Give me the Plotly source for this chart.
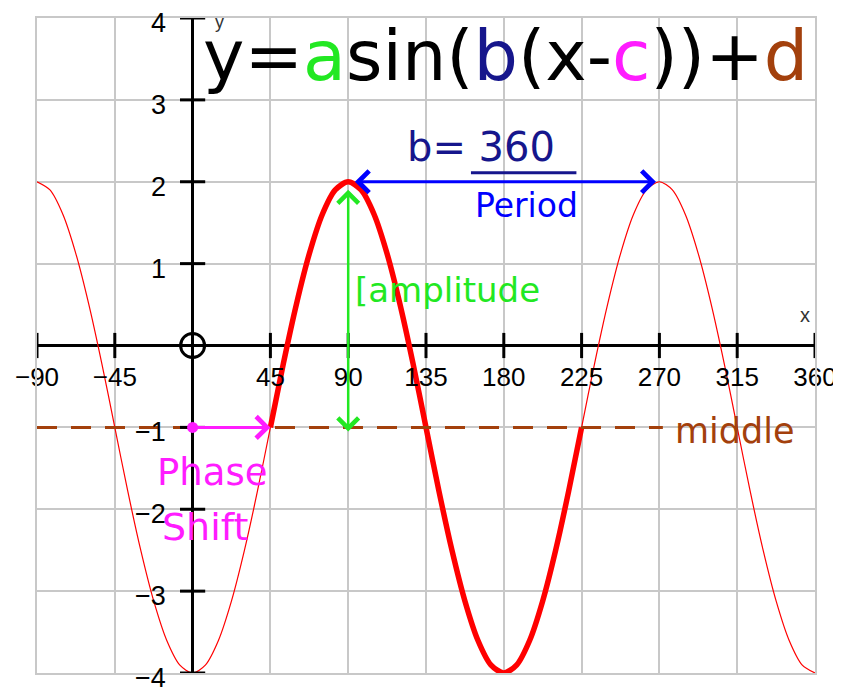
import plotly.graph_objects as go

# values (degrees, y), every 7.5 degrees
curve_x = [-90 + 7.5 * i for i in range(61)]
curve_y = [2, 1.9, 1.6, 1.12, 0.5, -0.22, -1, -1.78, -2.5, -3.12, -3.6, -3.9,
           -4, -3.9, -3.6, -3.12, -2.5, -1.78, -1, -0.22, 0.5, 1.12, 1.6, 1.9,
           2, 1.9, 1.6, 1.12, 0.5, -0.22, -1, -1.78, -2.5, -3.12, -3.6, -3.9,
           -4, -3.9, -3.6, -3.12, -2.5, -1.78, -1, -0.22, 0.5, 1.12, 1.6, 1.9,
           2, 1.9, 1.6, 1.12, 0.5, -0.22, -1, -1.78, -2.5, -3.12, -3.6, -3.9, -4]
period_start, period_end = 45, 225
middle_y = -1
phase_shift = 45
peak_x, peak_y = 90, 2
next_peak_x = 270

x_ticks = [-90, -45, 45, 90, 135, 180, 225, 270, 315, 360]
x_labels = ['\u221290', '\u221245', '45', '90', '135', '180', '225', '270', '315', '360']
y_ticks = [4, 3, 2, 1, -1, -2, -3, -4]
y_labels = ['4', '3', '2', '1', '\u22121', '\u22122', '\u22123', '\u22124']

RED = '#ff0000'
GREEN = '#22e822'
NAVY = '#16168c'
BLUE = '#0000ff'
MAGENTA = '#ff1cff'
BROWN = '#a3400c'
GRID = '#c8c8c8'

fig = go.Figure()

# thin curve over the whole range
fig.add_trace(go.Scatter(x=curve_x, y=curve_y, mode='lines',
                         line=dict(color=RED, width=1.2, shape='spline', smoothing=0.8),
                         showlegend=False))

# one period in bold
bx = [x for x in curve_x if period_start <= x <= period_end]
by = [y for x, y in zip(curve_x, curve_y) if period_start <= x <= period_end]
fig.add_trace(go.Scatter(x=bx, y=by, mode='lines',
                         line=dict(color=RED, width=5.5, shape='spline', smoothing=0.8),
                         showlegend=False))

# middle line
fig.add_trace(go.Scatter(x=[-90, 272], y=[middle_y, middle_y], mode='lines',
                         line=dict(color=BROWN, width=3, dash='20px,14px'),
                         showlegend=False))

# tick marks on the crossing axes
fig.add_trace(go.Scatter(x=x_ticks, y=[0] * len(x_ticks), mode='markers',
                         marker=dict(symbol='line-ns', size=18, color='black',
                                     line=dict(color='black', width=3)),
                         showlegend=False, cliponaxis=False))
fig.add_trace(go.Scatter(x=[0] * len(y_ticks), y=y_ticks, mode='markers',
                         marker=dict(symbol='line-ew', size=18, color='black',
                                     line=dict(color='black', width=3)),
                         showlegend=False, cliponaxis=False))

# x tick labels
fig.add_trace(go.Scatter(x=x_ticks, y=[-0.42] * len(x_ticks), mode='text',
                         text=x_labels,
                         textfont=dict(family='Liberation Sans', size=26, color='black'),
                         showlegend=False, cliponaxis=False))

# origin circle
fig.add_trace(go.Scatter(x=[0], y=[0], mode='markers',
                         marker=dict(symbol='circle-open', size=24, color='black',
                                     line=dict(color='black', width=3)),
                         showlegend=False))

# phase-shift start dot
fig.add_trace(go.Scatter(x=[0], y=[middle_y], mode='markers',
                         marker=dict(color=MAGENTA, size=11),
                         showlegend=False))

hand = 'DejaVu Sans'
annotations = [
    # equation
    dict(x=5, y=3.54, xanchor='left', yanchor='middle', showarrow=False,
         text=('<span style="color:black">y=</span><span style="color:%s">a</span>'
               '<span style="color:black">sin(</span><span style="color:%s">b</span>'
               '<span style="color:black">(x-</span><span style="color:%s">c</span>'
               '<span style="color:black">))+</span><span style="color:%s">d</span>')
              % (GREEN, NAVY, MAGENTA, BROWN),
         font=dict(family=hand, size=70, color='black')),
    # b = 360 / Period
    dict(x=167, y=2.42, showarrow=False, text='b= 360',
         font=dict(family=hand, size=40, color=NAVY)),
    dict(x=193, y=1.71, showarrow=False, text='Period',
         font=dict(family=hand, size=33, color=BLUE)),
    # period arrow
    dict(x=next_peak_x - 2, y=peak_y, ax=peak_x + 3, ay=peak_y,
         xref='x', yref='y', axref='x', ayref='y', text='',
         showarrow=True, arrowhead=4, arrowside='end+start',
         arrowsize=1.4, arrowwidth=3, arrowcolor=BLUE),
    # amplitude arrow
    dict(x=peak_x, y=middle_y - 0.05, ax=peak_x, ay=peak_y - 0.08,
         xref='x', yref='y', axref='x', ayref='y', text='',
         showarrow=True, arrowhead=4, arrowside='end+start',
         arrowsize=1.6, arrowwidth=2.5, arrowcolor=GREEN),
    dict(x=93, y=0.68, xanchor='left', showarrow=False, text='[amplitude',
         font=dict(family=hand, size=34, color=GREEN)),
    # phase shift arrow
    dict(x=phase_shift, y=middle_y, ax=0, ay=middle_y,
         xref='x', yref='y', axref='x', ayref='y', text='',
         showarrow=True, arrowhead=4, arrowsize=1.4, arrowwidth=3, arrowcolor=MAGENTA),
    dict(x=11, y=-1.55, showarrow=False, text='Phase',
         font=dict(family=hand, size=37, color=MAGENTA)),
    dict(x=7, y=-2.22, showarrow=False, text='Shift',
         font=dict(family=hand, size=38, color=MAGENTA)),
    # middle label
    dict(x=278, y=-1.05, xanchor='left', showarrow=False, text='middle',
         font=dict(family=hand, size=35, color=BROWN)),
    # axis names
    dict(x=354, y=0.37, showarrow=False, text='x',
         font=dict(family='Liberation Sans', size=20, color='#333333')),
    dict(x=15.5, y=3.95, showarrow=False, text='y',
         font=dict(family='Liberation Sans', size=18, color='#333333')),
]

# y tick labels, left of the vertical axis
for v, lab in zip(y_ticks, y_labels):
    annotations.append(dict(x=-14, y=v, xanchor='right', yanchor='middle', yshift=-5,
                            showarrow=False, text=lab,
                            font=dict(family='Liberation Sans', size=27, color='black')))

# fraction bar under 360
shapes = [dict(type='line', xref='x', yref='y', x0=161, x1=222, y0=2.11, y1=2.11,
               line=dict(color=NAVY, width=3))]

# the page adds an 8px body margin, so the figure is 8px smaller on each side
fig.update_layout(
    width=833, height=681,
    margin=dict(l=29, r=26, t=10, b=16, autoexpand=False),
    plot_bgcolor='white', paper_bgcolor='white',
    showlegend=False,
    annotations=annotations,
    shapes=shapes,
)
fig.update_xaxes(range=[-90, 360], tick0=0, dtick=45, showticklabels=False,
                 showgrid=True, gridcolor=GRID, gridwidth=1.5,
                 zeroline=True, zerolinecolor='black', zerolinewidth=3,
                 showline=True, linecolor=GRID, linewidth=1.5, mirror=True, ticks='')
fig.update_yaxes(range=[-4, 4], tick0=0, dtick=1, showticklabels=False,
                 showgrid=True, gridcolor=GRID, gridwidth=1.5,
                 zeroline=True, zerolinecolor='black', zerolinewidth=3,
                 showline=True, linecolor=GRID, linewidth=1.5, mirror=True, ticks='')

fig.write_html("out.html")
